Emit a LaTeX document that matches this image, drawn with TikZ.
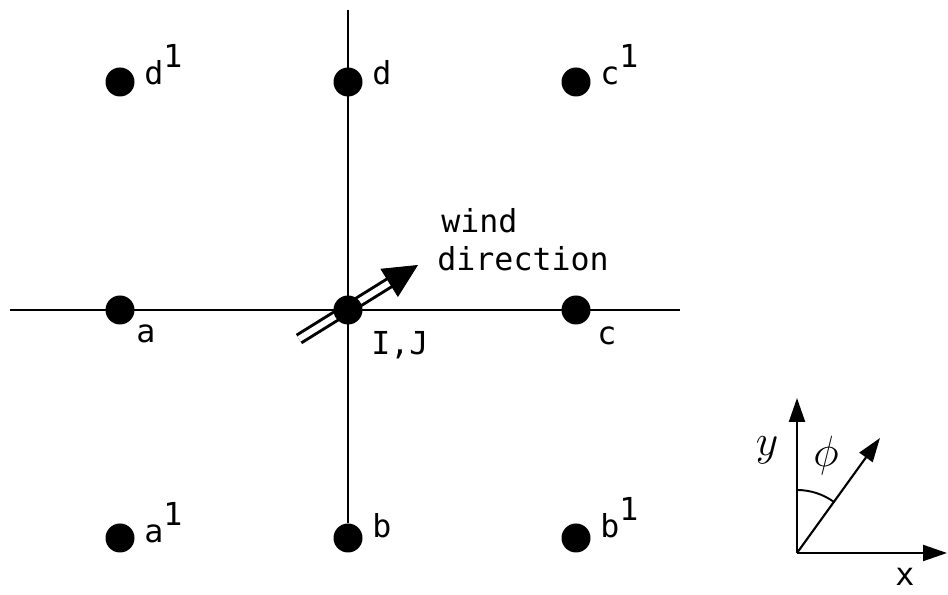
\documentclass[tikz,border=0pt]{standalone}
\usepackage{fontspec}
\usepackage{tikz}
\usetikzlibrary{positioning, arrows.meta, calc}
\newfontfamily\plotfont{DejaVu Sans Mono}

\begin{document}
\begin{tikzpicture}[node distance=4.56cm, on grid]
        % Define styles for grid points, labels and lines
        \tikzstyle{dot} = [circle, fill=black, inner sep=0pt, minimum size=0.58cm]
        \tikzstyle{lbl} = [inner sep=0pt, anchor=base west, font=\fontsize{18}{21}\plotfont]
        \tikzstyle{gridline} = [line width=1.1pt]
        \tikzstyle{windshaft} = [double, double distance=3.4pt, line width=1.7pt]
        \tikzstyle{windhead} = [line width=0.5pt, -{Triangle[length=0.68cm, width=0.66cm]}]
        \tikzstyle{axis} = [line width=1.2pt, -{Triangle[length=0.48cm, width=0.32cm]}]

        \useasboundingbox (0,0) rectangle (18.96,11.9);

        % Wind direction arrow (under the centre point)
        \coordinate (windtail) at (5.98,5.12);
        \coordinate (windtip) at (8.36,6.60);
        \draw [windshaft] (windtail) -- ($(windtip)!0.6cm!(windtail)$);
        \draw [windhead] ($(windtip)!0.68cm!(windtail)$) -- (windtip);

        % Grid points
        \node (nodeij) [dot] at (6.96,5.70) {};
        \node (nodea) [dot, left=of nodeij] {};
        \node (nodec) [dot, right=of nodeij] {};
        \node (noded) [dot, above=of nodeij] {};
        \node (nodeb) [dot, below=of nodeij] {};
        \node (nodedone) [dot, left=of noded] {};
        \node (nodecone) [dot, right=of noded] {};
        \node (nodeaone) [dot, left=of nodeb] {};
        \node (nodebone) [dot, right=of nodeb] {};

        % Grid lines
        \coordinate (leftend) at (0.2,5.70);
        \coordinate (rightend) at (13.6,5.70);
        \coordinate (topend) at (6.96,11.7);
        \draw [gridline] (leftend) -- (rightend);
        \draw [gridline] (topend) -- (nodeb);

        % Point labels
        \node (lbldone) [lbl] at ([shift={(0.48,-0.06)}]nodedone.center) {d\raisebox{0.55em}{1}};
        \node (lbld) [lbl] at ([shift={(0.48,-0.06)}]noded.center) {d};
        \node (lblcone) [lbl] at ([shift={(0.48,-0.06)}]nodecone.center) {c\raisebox{0.55em}{1}};
        \node (lbla) [lbl] at ([shift={(0.32,-0.66)}]nodea.center) {a};
        \node (lblij) [lbl] at ([shift={(0.46,-0.9)}]nodeij.center) {I,J};
        \node (lblc) [lbl] at ([shift={(0.42,-0.7)}]nodec.center) {c};
        \node (lblaone) [lbl] at ([shift={(0.48,-0.1)}]nodeaone.center) {a\raisebox{0.55em}{1}};
        \node (lblb) [lbl] at ([shift={(0.48,0)}]nodeb.center) {b};
        \node (lblbone) [lbl] at ([shift={(0.48,0)}]nodebone.center) {b\raisebox{0.55em}{1}};
        \node (lblwind) [lbl] at ([shift={(1.86,1.54)}]nodeij.center) {wind};
        \node (lbldir) [lbl] at ([shift={(1.78,0.78)}]nodeij.center) {direction};

        % Axes inset
        \coordinate (origin) at (15.94,0.84);
        \coordinate (ytip) at (15.94,3.94);
        \coordinate (xtip) at (18.94,0.84);
        \coordinate (phitip) at (17.6,3.14);
        \draw [axis] (origin) -- (ytip);
        \draw [axis] (origin) -- (xtip);
        \draw [axis] (origin) -- (phitip);
        \draw [line width=1.1pt] ([shift={(90:1.26)}]origin) arc[start angle=90, end angle=54.2, radius=1.26];
        \node (ylbl) at (15.34,2.9) {\fontsize{30}{32}\selectfont$y$};
        \node (philbl) at (16.52,2.78) {\fontsize{26}{28}\selectfont$\phi$};
        \node (xlbl) [font=\fontsize{18}{21}\plotfont, inner sep=0pt] at (18.1,0.36) {x};
    \end{tikzpicture}
\end{document}
